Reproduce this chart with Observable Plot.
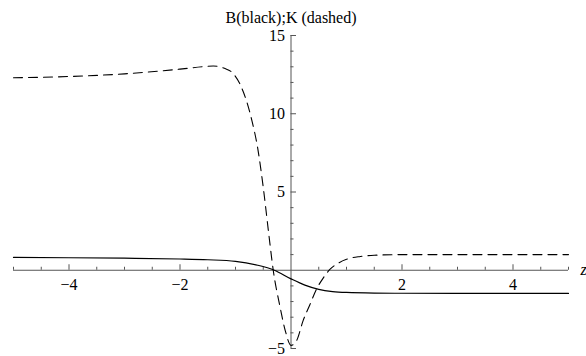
<!DOCTYPE html>
<html><head><meta charset="utf-8">
<script src="https://cdn.jsdelivr.net/npm/d3@7"></script>
<script src="https://cdn.jsdelivr.net/npm/@observablehq/plot@0.6"></script>
<style>body{margin:0;background:#fff}</style>
</head><body><div id="chart"></div>
<script>
const title = "B(black);K (dashed)";
const axisLabelX = "z";
const zB = [-5, -4, -3, -2, -1.5, -1, -0.6, -0.3, 0, 0.25, 0.5, 0.75, 1, 1.5, 2, 3, 4, 5];
const B  = [0.82, 0.8, 0.77, 0.72, 0.67, 0.57, 0.32, 0, -0.55, -0.95, -1.22, -1.36, -1.42, -1.46, -1.47, -1.48, -1.48, -1.48];
const zK = [-5, -4, -3, -2, -1.6, -1.4, -1.2, -1.05, -0.92, -0.8, -0.7, -0.6, -0.5, -0.4, -0.32, -0.2, -0.1, 0, 0.1, 0.22, 0.34, 0.46, 0.58, 0.7, 0.85, 1, 1.25, 1.5, 2, 3, 4, 5];
const K  = [12.3, 12.38, 12.55, 12.85, 13.0, 13.05, 12.9, 12.6, 11.9, 10.8, 9.5, 7.8, 5.3, 2.3, 0, -2.3, -3.9, -4.8, -4.5, -3.2, -2.2, -1.2, -0.5, 0.05, 0.45, 0.7, 0.88, 0.96, 1.0, 1.0, 1.0, 1.0];
const xMajor = [-4, -2, 2, 4];
const xMinor = [-5, -4.5, -3.5, -3, -2.5, -1.5, -1, -0.5, 0.5, 1, 1.5, 2.5, 3, 3.5, 4.5, 5];
const yMajor = [-5, 5, 10, 15];
const yMinor = [-4, -3, -2, -1, 1, 2, 3, 4, 6, 7, 8, 9, 11, 12, 13, 14];

const W = 586, H = 356, mL = 13, mR = 18, mT = 35, mB = 8;
const xDom = [-5, 5], yDom = [-5, 15];
const pxX = (W - mL - mR) / (xDom[1] - xDom[0]);
const pxY = (H - mT - mB) / (yDom[1] - yDom[0]);
const tx = px => px / pxX, ty = px => px / pxY;

const bData = zB.map((z, i) => ({z, v: B[i]}));
const kData = zK.map((z, i) => ({z, v: K[i]}));
const axisColor = "#555";
const font = "'Liberation Serif', 'Times New Roman', serif";
const fmt = d => String(d).replace("-", "\u2212");

const chart = Plot.plot({
  width: W, height: H,
  marginLeft: mL, marginRight: mR, marginTop: mT, marginBottom: mB,
  x: {domain: xDom, axis: null},
  y: {domain: yDom, axis: null},
  style: {background: "#fff"},
  marks: [
    Plot.ruleY([0], {stroke: axisColor, strokeWidth: 1}),
    Plot.ruleX([0], {stroke: axisColor, strokeWidth: 1}),
    Plot.ruleX(xMajor, {x: d => d, y1: 0, y2: ty(5.5), stroke: axisColor}),
    Plot.ruleX(xMinor, {x: d => d, y1: 0, y2: ty(3), stroke: axisColor}),
    Plot.ruleY(yMajor, {y: d => d, x1: 0, x2: tx(5.5), stroke: axisColor}),
    Plot.ruleY(yMinor, {y: d => d, x1: 0, x2: tx(3), stroke: axisColor}),
    Plot.text(xMajor, {x: d => d, y: 0, text: fmt, dy: 15, fontSize: 16, fontFamily: font, fill: "#000"}),
    Plot.text(yMajor, {x: 0, y: d => d, text: fmt, dx: -6, textAnchor: "end", fontSize: 16, fontFamily: font, fill: "#000"}),
    Plot.line(bData, {x: "z", y: "v", curve: "monotone-x", stroke: "#000", strokeWidth: 1.2}),
    Plot.line(kData, {x: "z", y: "v", curve: "monotone-x", stroke: "#000", strokeWidth: 1.1, strokeDasharray: "9,6"}),
    Plot.text([title], {frameAnchor: "top", dy: -24, fontSize: 16, fontFamily: font, fill: "#000"}),
    Plot.text([axisLabelX], {x: xDom[1], y: 0, dx: 12, textAnchor: "start", fontSize: 16, fontFamily: font, fontStyle: "italic", fill: "#000"})
  ]
});
chart.querySelectorAll("text").forEach(t => { t.style.fontFamily = font; });
document.getElementById("chart").appendChild(chart);
</script>
</body></html>
